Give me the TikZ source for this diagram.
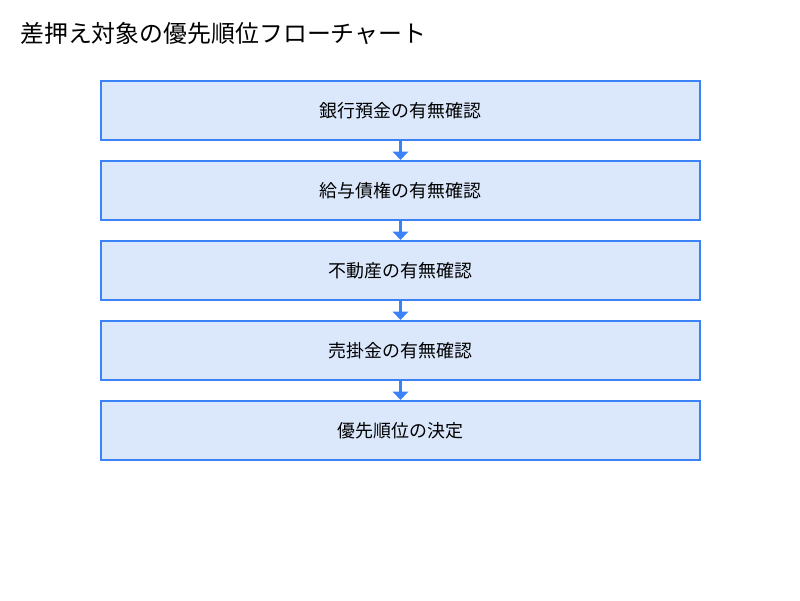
\documentclass[tikz,border=0pt]{standalone}
\usepackage{fontspec}
\setmainfont{Noto Sans CJK JP}
\usetikzlibrary{arrows.meta}
\definecolor{boxfill}{HTML}{DBE8FC}
\definecolor{boxline}{HTML}{3B82F6}
\begin{document}
\begin{tikzpicture}[node distance=2cm, every node/.style={inner sep=0pt}, stepbox/.style={rectangle, fill=boxfill, draw=boxline, line width=1.5pt, minimum width=14.975cm, minimum height=1.475cm, text centered, font=\fontsize{12.75pt}{14pt}\selectfont}, flow/.style={draw=boxline, line width=1.5pt, -{Triangle[width=11pt,length=6pt]}}]
        \useasboundingbox (0,0) rectangle (20,-15);
        \node(title)[anchor=west, font=\fontsize{17pt}{20pt}\selectfont] at (0.5,-0.825){差押え対象の優先順位フローチャート};
        \node(bank)[stepbox] at (10.0125,-2.7625){銀行預金の有無確認};
        \node(salary)[stepbox, below of=bank]{給与債権の有無確認};
        \node(estate)[stepbox, below of=salary]{不動産の有無確認};
        \node(receivable)[stepbox, below of=estate]{売掛金の有無確認};
        \node(priority)[stepbox, below of=receivable]{優先順位の決定};

        \draw[flow] (bank) -- (salary);
        \draw[flow] (salary) -- (estate);
        \draw[flow] (estate) -- (receivable);
        \draw[flow] (receivable) -- (priority);
    \end{tikzpicture}
\end{document}
